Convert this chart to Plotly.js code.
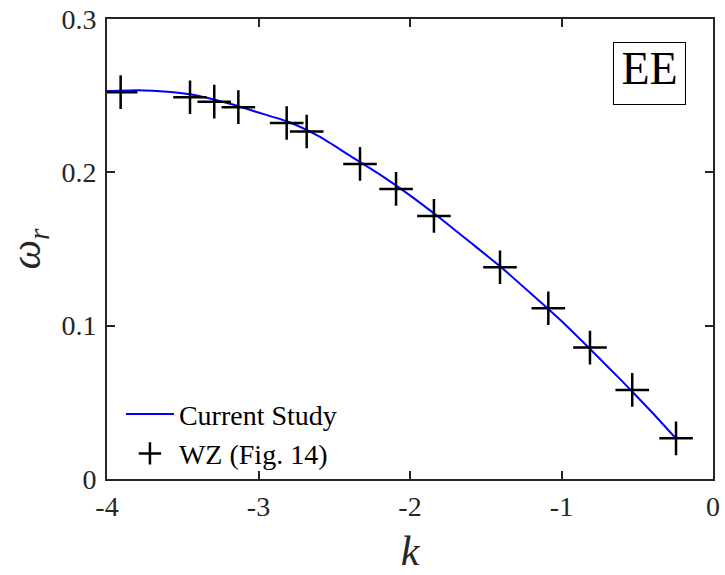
<!DOCTYPE html>
<html>
<head>
<meta charset="utf-8">
<script src="https://cdn.plot.ly/plotly-3.0.1.min.js"></script>
<style>html,body{margin:0;padding:0;background:#fff;}#chart{width:725px;height:575px;}</style>
</head>
<body>
<div id="chart"></div>
<script>
// Current Study (solid blue line)
const studyK = [-4.0, -3.8, -3.6, -3.4, -3.2, -3.0, -2.8, -2.6, -2.4, -2.2, -2.0, -1.8, -1.6, -1.4, -1.2, -1.0, -0.8, -0.6, -0.4, -0.25];
const studyW = [0.2530, 0.2536, 0.2526, 0.2500, 0.2450, 0.2390, 0.2328, 0.2234, 0.2111, 0.1987, 0.1850, 0.1700, 0.1542, 0.1382, 0.1208, 0.1030, 0.0836, 0.0638, 0.0432, 0.0270];
// WZ (Fig. 14) markers
const wzK = [-3.910, -3.452, -3.292, -3.133, -2.814, -2.682, -2.330, -2.092, -1.842, -1.406, -1.087, -0.812, -0.533, -0.244];
const wzW = [0.2523, 0.2490, 0.2461, 0.2425, 0.2322, 0.2266, 0.2055, 0.1892, 0.1716, 0.1381, 0.1114, 0.0857, 0.0581, 0.0265];
// ticks
const xTickVals = [-4, -3, -2, -1, 0];
const xTickText = ['-4', '-3', '-2', '-1', '0'];
const yTickVals = [0, 0.1, 0.2, 0.3];
const yTickText = ['0', '0.1', '0.2', '0.3'];

const serif = 'Liberation Serif, DejaVu Serif, serif';
const axisColor = '#262626';

const traces = [
  {
    x: studyK, y: studyW, type: 'scatter', mode: 'lines', name: 'Current Study',
    line: {color: '#0000ff', width: 2, shape: 'spline', smoothing: 0.6}
  },
  {
    x: wzK, y: wzW, type: 'scatter', mode: 'markers', name: 'WZ (Fig. 14)',
    marker: {symbol: 'cross-thin-open', size: 24, color: '#000000', line: {color: '#000000', width: 2.5}}
  }
];

const layout = {
  width: 725, height: 575,
  margin: {l: 107, r: 12, t: 19, b: 96},
  paper_bgcolor: '#ffffff', plot_bgcolor: '#ffffff',
  showlegend: true,
  legend: {
    x: 0.023, y: 0.195, xanchor: 'left', yanchor: 'top',
    bgcolor: 'rgba(0,0,0,0)', borderwidth: 0,
    font: {family: serif, size: 28, color: '#000000'},
    itemwidth: 48, tracegroupgap: 0
  },
  xaxis: {
    range: [-4, 0], tickvals: xTickVals, ticktext: xTickText,
    ticks: 'inside', ticklen: 8, tickwidth: 2, tickcolor: axisColor,
    showline: true, linecolor: axisColor, linewidth: 2, mirror: 'ticks',
    showgrid: false, zeroline: false,
    tickfont: {family: serif, size: 28, color: axisColor},
    ticklabelstandoff: 1,
    title: {text: '<i>k</i>', font: {family: serif, size: 42, color: axisColor}, standoff: 15}
  },
  yaxis: {
    range: [0, 0.3], tickvals: yTickVals, ticktext: yTickText,
    ticks: 'inside', ticklen: 8, tickwidth: 2, tickcolor: axisColor,
    showline: true, linecolor: axisColor, linewidth: 2, mirror: 'ticks',
    showgrid: false, zeroline: false,
    tickfont: {family: serif, size: 28, color: axisColor},
    ticklabelstandoff: 3,
    title: {text: '<i>ω</i><sub><i>r</i></sub>', font: {family: serif, size: 42, color: axisColor}, standoff: 8}
  },
  annotations: [
    {
      xref: 'paper', yref: 'paper', x: 0.9554, y: 0.95, xanchor: 'right', yanchor: 'top',
      text: 'EE', showarrow: false, width: 71, height: 61, valign: 'top', align: 'center',
      font: {family: serif, size: 46, color: '#000000'},
      bordercolor: '#000000', borderwidth: 1, borderpad: 0, bgcolor: '#ffffff'
    }
  ]
};

Plotly.newPlot('chart', traces, layout, {displayModeBar: false, staticPlot: true});
</script>
</body>
</html>
